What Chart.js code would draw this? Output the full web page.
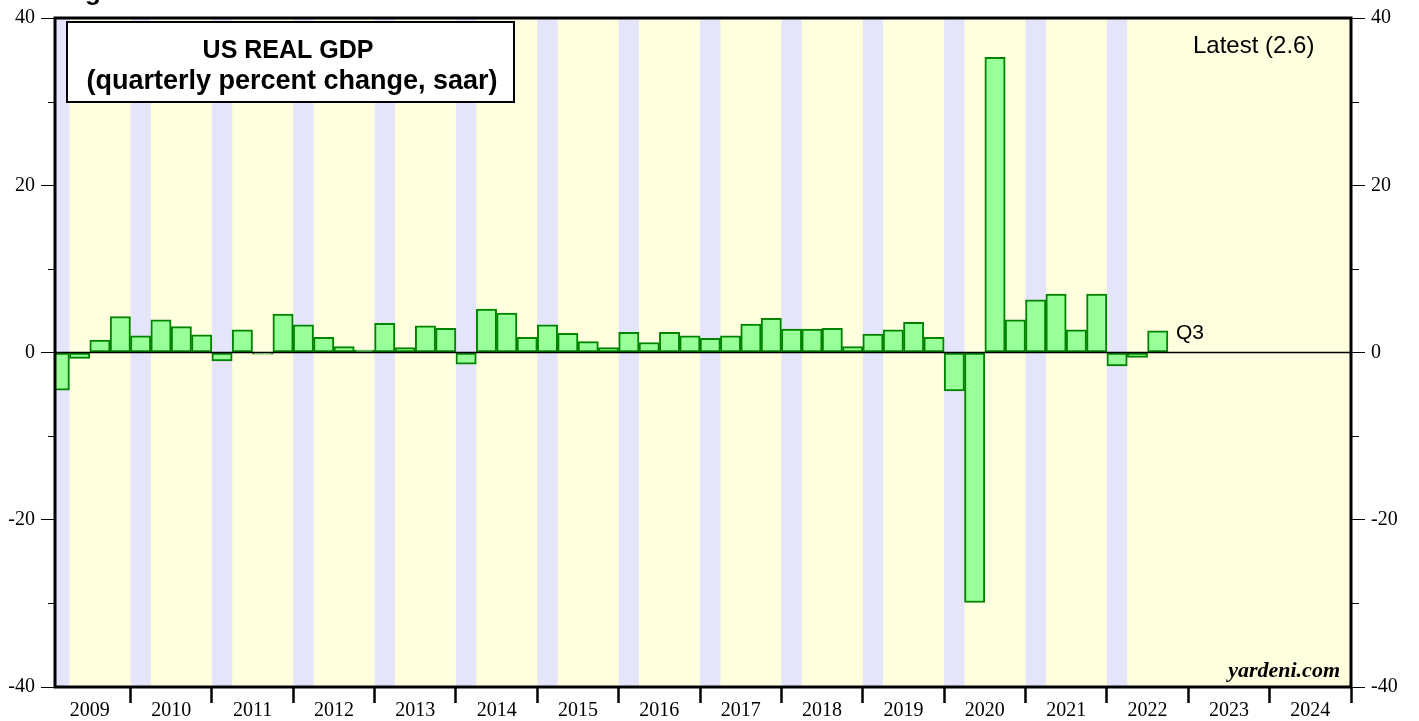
<!DOCTYPE html>
<html>
<head>
<meta charset="utf-8">
<title>US Real GDP</title>
<script src="https://cdn.jsdelivr.net/npm/chart.js@4.4.0/dist/chart.umd.min.js"></script>
<style>
  html, body { margin: 0; padding: 0; background: #ffffff; }
  canvas { display: block; }
</style>
</head>
<body>
<canvas id="gdpChart" width="1419" height="721"></canvas>
<script>
// quarterly percent change, saar, 2009 Q1 .. 2022 Q3
const firstYear = 2009;
const lastYear = 2024;
const gdp2009 = [-4.5, -0.7, 1.5, 4.3];
const gdp2010 = [2.0, 3.9, 3.1, 2.1];
const gdp2011 = [-1.0, 2.7, -0.2, 4.6];
const gdp2012 = [3.3, 1.8, 0.7, 0.3];
const gdp2013 = [3.5, 0.6, 3.2, 2.9];
const gdp2014 = [-1.4, 5.2, 4.7, 1.8];
const gdp2015 = [3.3, 2.3, 1.3, 0.6];
const gdp2016 = [2.4, 1.2, 2.4, 2.0];
const gdp2017 = [1.7, 2.0, 3.4, 4.1];
const gdp2018 = [2.8, 2.8, 2.9, 0.7];
const gdp2019 = [2.2, 2.7, 3.6, 1.8];
const gdp2020 = [-4.6, -29.9, 35.3, 3.9];
const gdp2021 = [6.3, 7.0, 2.7, 7.0];
const gdp2022 = [-1.6, -0.6, 2.6];
const yTicks = [-40, -20, 0, 20, 40];

const gdp = [].concat(gdp2009, gdp2010, gdp2011, gdp2012, gdp2013, gdp2014, gdp2015,
  gdp2016, gdp2017, gdp2018, gdp2019, gdp2020, gdp2021, gdp2022);
const years = [];
for (let y = firstYear; y <= lastYear; y++) years.push(y);

// x is measured in quarters from the start of 2009
const points = gdp.map((v, i) => ({ x: i + 0.5, y: v }));
const xMin = 0.29;
const xMax = years.length * 4;

const yellow = '#ffffe0';
const lavender = '#e4e4fa';

// year boundaries get tick marks, year middles get the labels
const xTickValues = [];
for (let i = 1; i <= years.length; i++) xTickValues.push(i * 4);
for (let i = 0; i < years.length; i++) xTickValues.push(i * 4 + 2);
xTickValues.sort((a, b) => a - b);

const serif = '"Liberation Serif", "Times New Roman", serif';
const sans = '"Liberation Sans", Arial, sans-serif';

const decor = {
  id: 'decor',
  beforeDatasetsDraw(chart) {
    const { ctx, chartArea: a, scales } = chart;
    const x = scales.x;
    ctx.save();
    ctx.fillStyle = yellow;
    ctx.fillRect(a.left, a.top, a.right - a.left, a.bottom - a.top);
    // lavender band on the first quarter of each year with data
    ctx.fillStyle = lavender;
    const dataYears = Math.ceil(gdp.length / 4);
    for (let i = 0; i < dataYears; i++) {
      const l = Math.max(x.getPixelForValue(i * 4), a.left);
      const r = x.getPixelForValue(i * 4 + 1);
      ctx.fillRect(l, a.top, r - l, a.bottom - a.top);
    }
    ctx.restore();
  },
  afterDatasetsDraw(chart) {
    const { ctx, chartArea: a, scales } = chart;
    const y = scales.y;
    ctx.save();
    // zero line
    ctx.strokeStyle = '#000';
    ctx.lineWidth = 1.5;
    const y0 = y.getPixelForValue(0);
    ctx.beginPath();
    ctx.moveTo(a.left, y0);
    ctx.lineTo(a.right, y0);
    ctx.stroke();

    // minor ticks on both sides
    ctx.lineWidth = 1;
    for (let v = -30; v <= 30; v += 20) {
      const p = Math.round(y.getPixelForValue(v)) + 0.5;
      ctx.beginPath();
      ctx.moveTo(a.left - 7, p);
      ctx.lineTo(a.left, p);
      ctx.moveTo(a.right, p);
      ctx.lineTo(a.right + 8, p);
      ctx.stroke();
    }

    // frame
    ctx.lineWidth = 3;
    ctx.strokeRect(a.left, a.top, a.right - a.left, a.bottom - a.top);
    ctx.restore();
  },
  afterDraw(chart) {
    const { ctx, scales } = chart;
    const x = scales.x;
    const y = scales.y;
    ctx.save();

    // cut off heading at the very top
    ctx.fillStyle = '#000';
    ctx.font = 'bold 26px ' + sans;
    ctx.textAlign = 'right';
    ctx.textBaseline = 'alphabetic';
    ctx.fillText('Fig', 101, 0);

    // title box
    ctx.fillStyle = '#fff';
    ctx.fillRect(67, 22, 447, 80);
    ctx.strokeStyle = '#000';
    ctx.lineWidth = 2;
    ctx.strokeRect(67, 22, 447, 80);
    ctx.fillStyle = '#000';
    ctx.textAlign = 'center';
    ctx.font = 'bold 25px ' + sans;
    ctx.fillText('US REAL GDP', 288, 58);
    ctx.font = 'bold 27px ' + sans;
    ctx.fillText('(quarterly percent change, saar)', 292, 89);

    ctx.font = '24px ' + sans;
    ctx.textAlign = 'left';
    const latest = gdp[gdp.length - 1];
    ctx.fillText('Latest (' + latest.toFixed(1) + ')', 1193, 53);

    ctx.font = '21px ' + sans;
    ctx.fillText('Q3', x.getPixelForValue(gdp.length) + 8, y.getPixelForValue(latest) + 8);

    ctx.font = 'italic bold 22px ' + serif;
    ctx.textAlign = 'right';
    ctx.fillText('yardeni.com', 1340, 677);
    ctx.restore();
  }
};

const yAxisBase = {
  type: 'linear',
  min: -40,
  max: 40,
  afterBuildTicks: axis => { axis.ticks = yTicks.map(v => ({ value: v })); },
  ticks: {
    autoSkip: false,
    font: { family: serif, size: 20 },
    color: '#000',
    padding: 6
  },
  grid: {
    drawOnChartArea: false,
    tickLength: 14,
    tickColor: '#000',
    tickWidth: 1
  },
  border: { display: false }
};

const chart = new Chart(document.getElementById('gdpChart'), {
  type: 'bar',
  data: {
    datasets: [{
      label: 'US real GDP',
      data: points,
      backgroundColor: '#99ff99',
      borderColor: '#008400',
      borderWidth: 2,
      borderSkipped: false,
      barPercentage: 1,
      categoryPercentage: 1,
      clip: 0,
      yAxisID: 'y'
    }]
  },
  options: {
    responsive: false,
    devicePixelRatio: 1,
    animation: false,
    layout: { padding: { top: 15, left: 0, right: 0, bottom: 0 } },
    plugins: {
      legend: { display: false },
      tooltip: { enabled: false },
      title: { display: false }
    },
    scales: {
      x: {
        type: 'linear',
        min: xMin,
        max: xMax,
        offset: false,
        afterBuildTicks: axis => { axis.ticks = xTickValues.map(v => ({ value: v })); },
        afterFit: axis => { axis.height = 34; },
        ticks: {
          autoSkip: false,
          maxRotation: 0,
          minRotation: 0,
          padding: -4,
          font: { family: serif, size: 20 },
          color: '#000',
          callback: v => (v % 4 === 2 ? String(firstYear + (v - 2) / 4) : '')
        },
        grid: {
          offset: false,
          drawOnChartArea: false,
          tickLength: 16,
          tickWidth: 2.5,
          tickColor: c => (c.tick && c.tick.value % 4 === 0 ? '#000' : 'rgba(0,0,0,0)')
        },
        border: { display: false }
      },
      y: Object.assign({}, yAxisBase, {
        position: 'left',
        afterFit: axis => { axis.width = 55; }
      }),
      y2: Object.assign({}, yAxisBase, {
        position: 'right',
        afterFit: axis => { axis.width = 68; }
      })
    }
  },
  plugins: [decor]
});
</script>
</body>
</html>
